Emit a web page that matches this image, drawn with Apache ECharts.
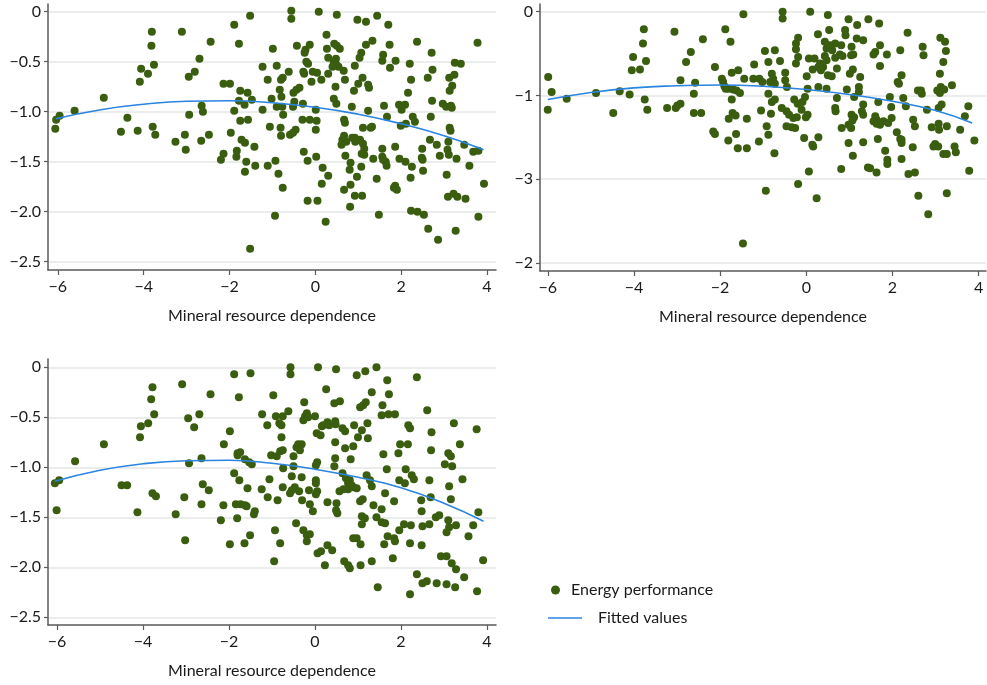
<!DOCTYPE html>
<html><head><meta charset="utf-8">
<script src="https://cdn.jsdelivr.net/npm/echarts@6/dist/echarts.min.js"></script>
<style>html,body{margin:0;padding:0;background:#fff}#c{width:987px;height:685px}</style>
</head><body><div id="c"></div><script>
// ---- tick labels ----
const xTickValues = [-6, -4, -2, 0, 2, 4];
const xTickLabels = ["−6", "−4", "−2", "0", "2", "4"];
const yTickValuesA = [0, -0.5, -1, -1.5, -2, -2.5];
const yTickLabelsA = ["0", "−0.5", "−1.0", "−1.5", "−2.0", "−2.5"];
const yTickValuesB = [0, -1, -2, -3];
const yTickLabelsB = ["0", "−1", "−3", "−2"];
const xAxisTitle = "Mineral resource dependence";
const seriesNames = ["Energy performance", "Fitted values"];

// ---- panel 1 (top left) ----
const panel1Points = [
[-6.06,-1.17],[-6.04,-1.08],[-5.96,-1.04],[-5.61,-0.99],[-4.93,-0.86],[-4.38,-1.06],[-4.53,-1.20],[-4.14,-1.19],[-4.09,-0.70],[-4.06,-0.57],[-3.90,-0.62],[-3.82,-0.34],[-3.81,-0.20],[-3.76,-0.53],[-3.79,-1.15],[-3.73,-1.23],[-3.26,-1.30],[-3.04,-1.23],[-3.11,-0.20],[-2.94,-1.03],[-2.95,-0.65],[-2.81,-0.60],[-2.70,-0.47],[-2.65,-0.94],[-2.62,-1.00],[-2.66,-1.29],[-2.48,-1.23],[-2.44,-0.30],[-2.14,-0.72],[-1.99,-0.72],[-1.89,-0.13],[-1.78,-0.32],[-1.75,-0.79],[-1.58,-0.81],[-1.78,-0.89],[-1.89,-0.99],[-1.65,-0.93],[-1.75,-1.09],[-1.57,-1.08],[-1.97,-1.21],[-1.72,-1.28],[-1.64,-1.31],[-1.52,-0.04],
[-3.02,-1.38],[-2.20,-1.48],[-2.14,-1.42],[-1.83,-1.39],[-1.84,-1.45],[-1.61,-1.50],[-1.64,-1.60],[-1.52,-2.37],
[-0.56,0.01],[-0.56,-0.07],[0.08,0.00],[0.50,-0.03],[0.98,-0.08],[1.18,-0.10],[1.44,-0.04],[1.70,-0.13],
[-0.99,-0.37],[-0.43,-0.34],[-0.23,-0.38],[-0.25,-0.41],[-0.13,-0.33],[0.26,-0.23],[0.27,-0.37],[0.44,-0.32],[0.50,-0.34],[0.57,-0.37],[1.18,-0.33],[1.33,-0.29],[1.73,-0.33],[1.07,-0.41],[1.03,-0.46],[2.37,-0.30],[2.71,-0.41],[3.78,-0.31],
[1.58,-0.43],[1.56,-0.49],[1.87,-0.49],[1.74,-0.56],[2.20,-0.52],[2.23,-0.68],[2.73,-0.58],[2.62,-0.66],[3.25,-0.51],[3.39,-0.52],[3.24,-0.63],[3.12,-0.66],[3.19,-0.74],[3.13,-0.79],[2.16,-0.81],[2.72,-0.89],[2.97,-0.92],[3.05,-0.95],[3.16,-0.94],[3.18,-0.96],[2.69,-1.05],[3.13,-1.16],[3.15,-1.19],[3.10,-1.30],[2.67,-1.28],
[-1.23,-0.55],[-0.90,-0.54],[-0.62,-0.60],[-0.76,-0.66],[-0.80,-0.68],[-1.11,-0.68],[-0.21,-0.50],[-0.17,-0.52],[-0.28,-0.60],[-0.26,-0.62],[-0.06,-0.60],[0.04,-0.61],[-0.09,-0.70],[0.14,-0.68],[0.30,-0.62],[0.30,-0.46],[0.48,-0.47],[0.43,-0.51],[0.49,-0.53],[0.54,-0.55],[0.66,-0.59],[0.40,-0.55],[0.69,-0.68],[0.47,-0.75],[0.92,-0.54],[1.10,-0.66],[1.00,-0.72],[1.23,-0.73],[1.25,-0.76],[0.90,-0.79],[-0.83,-0.78],[-0.51,-0.81],[-0.44,-0.78],[-0.37,-0.76],[-1.48,-0.88],[-1.02,-0.87],[-0.79,-0.85],[-0.90,-0.95],[-0.77,-0.95],[-1.23,-0.98],[-0.49,-0.90],[-0.29,-0.92],[-0.52,-0.95],[0.01,-0.98],[0.43,-0.87],[0.49,-0.92],[0.85,-0.95],[1.23,-0.99],[1.60,-0.94],[1.95,-0.93],[2.01,-0.98],[2.09,-0.93],[1.67,-1.05],[2.27,-1.05],[2.32,-1.10],[1.99,-1.14],[2.11,-1.12],[-0.75,-1.03],[-0.30,-1.08],[-0.13,-1.08],[0.03,-1.09],[0.01,-1.18],[0.67,-1.08],[0.69,-1.11],[-1.06,-1.15],[-0.81,-1.16],[-0.80,-1.24],[-0.52,-1.21],[-0.46,-1.18],[-0.59,-1.23],[1.11,-1.16],[1.29,-1.16],[1.32,-1.15],[0.63,-1.28],[0.86,-1.26],[0.92,-1.26],
[-1.42,-1.35],[-1.40,-1.54],[-1.11,-1.54],[-0.93,-1.49],[-0.86,-1.62],[-0.76,-1.76],[-0.94,-2.04],[-0.27,-1.40],[-0.18,-1.49],[0.02,-1.45],[0.17,-1.56],[0.30,-1.64],[0.15,-1.72],[-0.18,-1.89],[0.05,-1.89],[0.24,-2.10],
[0.61,-1.33],[0.72,-1.30],[0.67,-1.24],[0.93,-1.30],[1.04,-1.28],[1.11,-1.32],[1.14,-1.37],[1.08,-1.42],[1.14,-1.43],[0.70,-1.44],[0.82,-1.51],[0.80,-1.58],[1.07,-1.55],[0.97,-1.65],[0.67,-1.78],[0.82,-1.73],[0.92,-1.84],[1.09,-1.84],[0.81,-1.95],[1.35,-1.47],[1.56,-1.37],[1.56,-1.45],[1.58,-1.48],[1.64,-1.50],[1.66,-1.54],[1.43,-1.67],[1.48,-2.03],[1.86,-1.35],[1.96,-1.47],[2.10,-1.50],[2.25,-1.55],[2.22,-1.66],[1.83,-1.76],[1.86,-1.74],[1.90,-1.78],[2.49,-1.37],[2.48,-1.46],[2.50,-1.48],[2.51,-1.59],[2.23,-1.99],[2.38,-2.00],[2.53,-2.03],[2.63,-2.17],[2.86,-2.28],[2.83,-1.33],[2.90,-1.44],[3.08,-1.38],[3.11,-1.43],[3.29,-1.47],[3.06,-1.63],[3.09,-1.85],[3.22,-1.82],[3.31,-1.85],[3.50,-1.87],[3.27,-2.19],[3.47,-1.33],[3.59,-1.54],[3.68,-1.40],[3.80,-1.39],[3.93,-1.72],[3.80,-2.05]
];
const panel1Fit = [[-6.05,-1.07],[-5,-0.98],[-4,-0.925],[-3,-0.895],[-2,-0.89],[-1,-0.91],[0,-0.955],[1,-1.025],[2,-1.12],[3,-1.24],[3.92,-1.38]];

// ---- panel 2 (top right) ----
const panel2Points = [
[-5.99,-0.78],[-5.91,-0.96],[-6.00,-1.17],[-5.56,-1.04],[-4.88,-0.97],[-4.48,-1.21],[-4.33,-0.95],[-4.10,-0.99],[-4.05,-0.70],[-4.02,-0.54],[-3.86,-0.69],[-3.72,-0.59],[-3.79,-0.38],[-3.77,-0.21],[-3.75,-1.05],[-3.69,-1.17],[-3.23,-1.15],[-3.03,-1.15],[-2.99,-1.12],[-2.92,-1.10],[-3.06,-0.24],[-2.92,-0.82],[-2.79,-0.60],[-2.68,-0.48],[-2.58,-0.85],[-2.61,-0.98],[-2.61,-1.21],[-2.44,-1.21],[-2.40,-0.33],[-2.12,-0.66],[-2.16,-1.43],[-2.12,-1.46],[-1.88,-0.21],[-1.76,-0.36],[-1.96,-0.80],[-1.93,-0.84],[-1.90,-0.89],[-1.87,-0.92],[-1.81,-0.92],[-1.70,-0.93],[-1.62,-0.94],[-1.73,-0.73],[-1.58,-0.70],[-1.73,-1.05],[-1.71,-1.21],[-1.64,-1.24],[-1.80,-1.28],[-1.63,-1.46],[-1.81,-1.54],[-1.59,-1.63],
[-1.46,-0.03],[-0.55,0.00],[-0.55,-0.08],[0.09,0.00],[0.50,-0.04],[0.98,-0.09],[1.18,-0.16],[1.44,-0.09],[1.69,-0.14],[0.27,-0.27],[0.53,-0.22],[0.90,-0.22],[0.91,-0.28],[1.17,-0.32],[1.32,-0.34],[2.35,-0.25],[3.11,-0.31],[3.22,-0.36],
[-0.19,-0.31],[-0.24,-0.38],[-0.24,-0.45],[-0.19,-0.54],[-0.24,-0.62],[0.43,-0.36],[0.47,-0.44],[0.55,-0.40],[0.67,-0.38],[0.81,-0.40],[0.60,-0.46],[1.05,-0.42],[1.09,-0.51],[-0.96,-0.47],[-0.73,-0.46],[-0.88,-0.60],[-0.61,-0.59],[-1.21,-0.63],
[-1.44,-0.80],[-1.23,-0.80],[-1.09,-0.80],[-1.02,-0.84],[-0.80,-0.74],[-0.77,-0.80],[-0.84,-0.84],[-0.73,-0.86],[-0.49,-0.73],[-0.49,-0.82],[-0.45,-0.90],[0.06,-0.56],[0.19,-0.56],[0.32,-0.62],[0.39,-0.66],[0.34,-0.70],[0.28,-0.66],[0.47,-0.58],[0.43,-0.53],[0.67,-0.55],[0.71,-0.68],[0.78,-0.51],[0.84,-0.53],[0.15,-0.69],[0.01,-0.77],[0.50,-0.76],[0.59,-0.77],[1.04,-0.52],[1.08,-0.69],[1.01,-0.74],[1.25,-0.78],[1.56,-0.51],[1.60,-0.48],[1.71,-0.40],[1.87,-0.51],[1.71,-0.65],[2.18,-0.46],[2.70,-0.42],[2.72,-0.52],[3.24,-0.47],[3.18,-0.60],[3.10,-0.74],[2.21,-0.76],[2.12,-0.84],[2.15,-0.86],[2.59,-0.94],[2.66,-0.94],[2.68,-0.98],[3.04,-0.94],[3.12,-0.90],[3.20,-0.93],[3.10,-0.97],[3.38,-0.88],[0.28,-0.90],[0.47,-0.92],[0.71,-1.03],[0.94,-0.93],[1.22,-0.90],[1.22,-0.96],[1.11,-1.02],[0.03,-0.92],[-0.03,-1.02],[-0.28,-1.05],[-0.20,-1.10],[-0.09,-1.08],[-0.11,-1.17],[0.03,-1.23],[-0.01,-1.26],[-0.57,-1.15],[-0.46,-1.19],[-0.40,-1.23],[-0.30,-1.27],[-0.22,-1.26],[-0.46,-1.37],[-0.34,-1.38],[-0.26,-1.39],[-0.80,-1.08],[-0.73,-1.05],[-0.88,-0.98],[-1.05,-1.18],[-0.82,-1.22],[-1.38,-1.28],[-1.54,-0.97],[-0.92,-1.37],[-0.88,-1.47],[-1.10,-1.55],[-0.05,-1.51],[0.28,-1.50],[0.14,-1.59],[0.67,-1.15],[0.68,-1.19],[1.32,-1.11],[1.29,-1.19],[1.32,-1.23],[1.05,-1.23],[1.11,-1.26],[1.07,-1.30],[0.98,-1.35],[0.82,-1.39],[1.04,-1.39],[1.60,-1.25],[1.63,-1.29],[1.56,-1.31],[1.63,-1.34],[1.71,-1.35],[1.79,-1.31],[1.90,-1.33],[1.98,-1.27],[1.67,-1.08],[1.94,-1.02],[2.25,-1.03],[2.31,-1.13],[1.97,-1.14],[2.10,-1.44],[2.18,-1.52],[2.48,-1.29],[2.52,-1.37],[2.80,-1.17],[3.07,-1.15],[3.14,-1.11],[3.07,-1.34],[2.91,-1.38],[3.08,-1.41],[3.26,-1.37],[3.57,-1.41],[3.68,-1.25],[3.76,-1.13],[3.90,-1.54],[1.66,-1.52],[1.32,-1.56],[0.98,-1.57],[2.21,-1.57],[2.99,-1.58],
[-1.38,-1.63],[-0.74,-1.69],[-0.94,-2.14],[-1.47,-2.77],[0.16,-1.61],[0.06,-1.91],[-0.19,-2.06],[0.24,-2.23],[0.81,-1.88],[1.08,-1.72],[1.43,-1.86],[1.48,-1.87],[1.63,-1.92],[1.83,-1.66],[1.88,-1.77],[1.88,-1.82],[2.21,-1.53],[2.21,-1.76],[2.47,-1.62],[2.37,-1.94],[2.52,-1.92],[2.60,-2.20],[2.83,-2.42],[2.95,-1.61],[3.06,-1.61],[3.18,-1.70],[3.26,-1.70],[3.44,-1.61],[3.47,-1.68],[3.26,-2.17],[3.78,-1.90]
];
const panel2Fit = [[-6,-1.05],[-5,-0.965],[-4,-0.91],[-3,-0.885],[-2,-0.875],[-1,-0.89],[0,-0.93],[1,-0.99],[2,-1.07],[3,-1.18],[3.85,-1.33]];

// ---- panel 3 (bottom left) ----
const panel3Points = [
[-6.05,-1.16],[-5.95,-1.13],[-5.58,-0.94],[-4.91,-0.77],[-4.50,-1.18],[-4.37,-1.18],[-4.07,-0.70],[-4.05,-0.59],[-3.88,-0.56],[-3.81,-0.32],[-3.78,-0.20],[-3.74,-0.47],[-3.78,-1.26],[-3.70,-1.29],[-3.09,-0.17],[-2.95,-0.51],[-2.81,-0.60],[-2.69,-0.47],[-2.93,-0.96],[-2.64,-0.91],[-2.61,-1.17],[-2.47,-1.23],[-2.43,-0.27],[-2.12,-0.77],[-1.98,-0.64],[-1.88,-0.07],[-1.77,-0.30],[-1.80,-0.86],[-1.74,-0.85],[-1.80,-0.88],[-1.88,-1.06],[-1.76,-1.13],[-1.63,-0.92],[-1.53,-0.95],[-1.57,-1.21],[-1.50,-0.06],
[-6.01,-1.43],[-4.13,-1.45],[-3.24,-1.47],[-3.04,-1.30],[-3.02,-1.73],[-2.64,-1.37],[-2.19,-1.53],[-2.13,-1.38],[-1.98,-1.77],[-1.84,-1.37],[-1.73,-1.37],[-1.63,-1.38],[-1.59,-1.39],[-1.81,-1.51],[-1.64,-1.76],[-1.51,-1.68],
[-0.57,0.00],[-0.57,-0.07],[0.07,0.00],[0.49,-0.02],[0.97,-0.08],[1.17,-0.04],[1.43,0.00],[1.68,-0.13],[2.37,-0.10],[0.26,-0.22],[-0.97,-0.28],[-0.25,-0.35],[0.45,-0.36],[0.58,-0.34],[1.32,-0.25],[1.72,-0.27],[1.05,-0.40],[1.12,-0.38],[1.18,-0.35],[1.57,-0.38],[1.55,-0.48],[1.71,-0.47],[1.86,-0.47],[2.61,-0.43],[-0.62,-0.44],[-1.23,-0.47],[-0.91,-0.49],[-0.75,-0.49],[-0.83,-0.56],[-0.78,-0.58],[-1.11,-0.58],[-0.19,-0.46],[-0.23,-0.49],[-0.27,-0.53],[-0.16,-0.50],[0.00,-0.49],[0.16,-0.59],[0.19,-0.58],[0.29,-0.55],[0.47,-0.54],[0.48,-0.57],[0.33,-0.58],[0.04,-0.66],[0.13,-0.68],[0.64,-0.61],[0.70,-0.64],[0.91,-0.58],[1.09,-0.63],[1.22,-0.56],[1.00,-0.70],[1.23,-0.71],[-0.78,-0.70],[0.47,-0.75],[0.70,-0.81],[0.89,-0.79],[-0.39,-0.77],[-0.31,-0.77],[-0.35,-0.83],[-0.43,-0.80],[2.17,-0.58],[2.21,-0.61],[2.71,-0.65],[3.23,-0.56],[3.76,-0.62],[1.98,-0.77],[2.16,-0.77],[3.37,-0.77],[2.70,-0.83],[1.59,-0.87],[1.94,-0.86],[3.10,-0.86],[3.16,-0.89],[3.02,-0.97],[3.19,-0.99],[-1.47,-0.97],[-1.02,-0.88],[-0.89,-0.89],[-0.81,-0.84],[-0.75,-0.83],[-0.50,-0.89],[-0.74,-1.01],[-0.50,-0.99],[0.05,-0.95],[0.02,-0.98],[0.47,-0.91],[0.45,-0.99],[0.83,-0.92],[1.67,-1.02],[2.11,-1.02],[-1.24,-1.22],[-1.06,-1.12],[-0.75,-1.20],[-0.54,-1.09],[-0.31,-1.10],[-0.54,-1.23],[-0.47,-1.20],[-0.37,-1.24],[-0.58,-1.26],[-0.14,-1.23],[0.02,-1.13],[0.02,-1.16],[0.05,-1.24],[0.64,-1.06],[0.72,-1.11],[0.81,-1.13],[0.77,-1.16],[0.85,-1.18],[1.20,-1.08],[1.28,-1.13],[1.32,-1.19],[1.96,-1.13],[2.09,-1.16],[2.25,-1.08],[2.30,-1.12],[2.66,-1.13],[3.12,-1.19],[3.43,-1.12],[1.63,-1.26],
[-1.40,-1.44],[-1.42,-1.47],[-1.10,-1.30],[-0.87,-1.33],[-0.93,-1.63],[-0.81,-1.76],[-0.95,-1.94],[-0.30,-1.33],[0.02,-1.27],[-0.12,-1.37],[-0.05,-1.44],[-0.44,-1.56],[-0.27,-1.63],[-0.19,-1.68],[-0.12,-1.67],[-0.19,-1.74],[0.06,-1.86],[0.14,-1.84],[0.29,-1.78],[0.40,-1.83],[0.23,-1.98],[0.29,-1.35],[0.50,-1.36],[0.49,-1.43],[0.52,-1.46],[0.57,-1.24],[0.66,-1.22],[0.77,-1.22],[0.89,-1.20],[0.97,-1.21],[0.68,-1.94],[0.77,-1.98],[0.81,-2.01],[0.89,-1.71],[0.97,-1.71],[1.06,-1.77],[1.06,-1.98],[1.05,-1.34],[1.11,-1.32],[1.09,-1.49],[1.16,-1.51],[1.09,-1.57],[1.36,-1.38],[1.55,-1.42],[1.43,-1.50],[1.55,-1.55],[1.63,-1.56],[1.32,-1.94],[1.46,-2.20],[1.84,-1.34],[1.69,-1.69],[1.61,-1.77],[1.84,-1.71],[1.86,-1.74],[1.96,-1.63],[2.07,-1.57],[2.23,-1.58],[1.81,-1.91],[2.21,-1.76],[2.21,-2.27],[2.37,-2.07],[2.50,-2.16],[2.60,-2.14],[2.83,-2.16],[3.06,-2.17],[3.26,-2.20],[3.47,-2.10],[3.77,-2.24],[2.47,-1.33],[2.48,-1.44],[2.50,-1.59],[2.66,-1.57],[2.48,-1.78],[2.69,-1.30],[2.81,-1.50],[2.89,-1.48],[3.10,-1.53],[3.12,-1.60],[3.06,-1.65],[3.16,-1.32],[3.28,-1.58],[2.93,-1.89],[3.06,-1.89],[3.18,-1.96],[3.28,-2.02],[3.57,-1.69],[3.68,-1.58],[3.80,-1.45],[3.91,-1.93]
];
const panel3Fit = [[-6.05,-1.14],[-5,-1.03],[-4,-0.965],[-3,-0.935],[-2,-0.93],[-1,-0.96],[0,-1.02],[1,-1.10],[2,-1.205],[3,-1.36],[3.92,-1.54]];

// ---- styling ----
const GREEN = '#3a5d10';
const BLUE = '#2a84e0';
const AXIS = '#5a5a5a';
const GRID = '#e4e7e7';
const TEXT = '#1a1a1a';
const FONT = 'Lato';

function lookup(values, labels) {
  return function (v) {
    for (let i = 0; i < values.length; i++) if (Math.abs(values[i] - v) < 1e-6) return labels[i];
    return '';
  };
}
function xAxisCfg(gi, min, max) {
  return {
    type: 'value', gridIndex: gi, min: min, max: max,
    name: xAxisTitle, nameLocation: 'middle', nameGap: 38,
    nameTextStyle: { color: TEXT, fontSize: 16, fontFamily: FONT },
    axisLine: { show: true, onZero: false, lineStyle: { color: AXIS, width: 1.5 } },
    axisTick: { show: true, length: 5, customValues: xTickValues, lineStyle: { color: AXIS, width: 1.2 } },
    axisLabel: { customValues: xTickValues, formatter: lookup(xTickValues, xTickLabels), color: TEXT, fontSize: 16, fontFamily: FONT, margin: 9 },
    splitLine: { show: false }
  };
}
function yAxisCfg(gi, min, max, vals, labs) {
  return {
    type: 'value', gridIndex: gi, min: min, max: max,
    axisLine: { show: true, onZero: false, lineStyle: { color: AXIS, width: 1.5 } },
    axisTick: { show: true, length: 4, customValues: vals, lineStyle: { color: AXIS, width: 1.2 } },
    axisLabel: { customValues: vals, formatter: lookup(vals, labs), color: TEXT, fontSize: 16, fontFamily: FONT, margin: 7 },
    splitLine: { show: true, lineStyle: { color: GRID, width: 1.6 } }
  };
}
function scatterS(i, data) {
  return { type: 'scatter', name: seriesNames[0], xAxisIndex: i, yAxisIndex: i, data: data,
    symbol: 'circle', symbolSize: 8, itemStyle: { color: GREEN, opacity: 1 }, z: 2, silent: true };
}
function fitS(i, data) {
  return { type: 'line', name: seriesNames[1], xAxisIndex: i, yAxisIndex: i, data: data,
    smooth: true, symbol: 'none', lineStyle: { color: BLUE, width: 1.6 }, itemStyle: { color: BLUE }, z: 3, silent: true };
}

const chart = echarts.init(document.getElementById('c'), null, { renderer: 'canvas' });
chart.setOption({
  animation: false,
  backgroundColor: '#ffffff',
  textStyle: { fontFamily: FONT },
  grid: [
    { left: 48, top: 4, width: 448, height: 266 },
    { left: 540, top: 4, width: 446, height: 267 },
    { left: 48, top: 359, width: 448, height: 266 }
  ],
  xAxis: [
    xAxisCfg(0, -6.23, 4.21),
    xAxisCfg(1, -6.18, 4.17),
    xAxisCfg(2, -6.21, 4.21)
  ],
  yAxis: [
    yAxisCfg(0, -2.583, 0.077, yTickValuesA, yTickLabelsA),
    yAxisCfg(1, -3.098, 0.092, yTickValuesB, yTickLabelsB),
    yAxisCfg(2, -2.577, 0.083, yTickValuesA, yTickLabelsA)
  ],
  legend: [
    { data: [seriesNames[0]], left: 546, top: 577, icon: 'circle', itemWidth: 9, itemHeight: 9,
      itemStyle: { color: GREEN, opacity: 1 },
      textStyle: { color: TEXT, fontSize: 16, fontFamily: FONT, padding: [0, 0, 0, 6] }, selectedMode: false },
    { data: [seriesNames[1]], left: 543, top: 605, icon: 'rect', itemWidth: 34, itemHeight: 1.6,
      itemStyle: { color: BLUE },
      textStyle: { color: TEXT, fontSize: 16, fontFamily: FONT, padding: [0, 0, 0, 11] }, selectedMode: false }
  ],
  series: [
    scatterS(0, panel1Points), fitS(0, panel1Fit),
    scatterS(1, panel2Points), fitS(1, panel2Fit),
    scatterS(2, panel3Points), fitS(2, panel3Fit)
  ]
});
</script></body></html>
